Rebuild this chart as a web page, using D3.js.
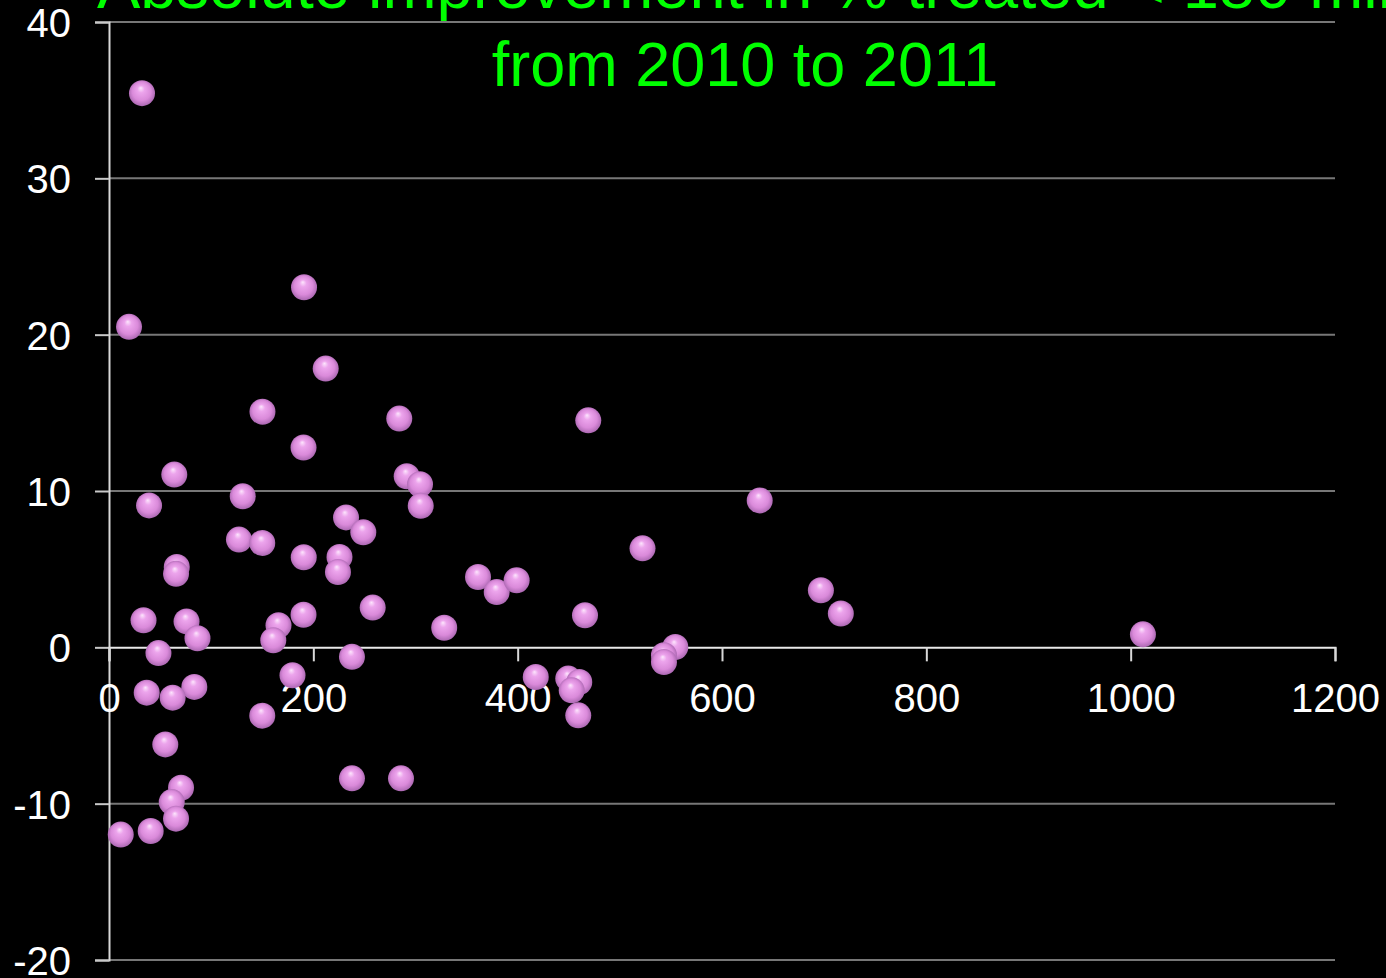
<!DOCTYPE html>
<html>
<head>
<meta charset="utf-8">
<script src="https://cdn.jsdelivr.net/npm/d3@7/dist/d3.min.js"></script>
<style>
html,body{margin:0;padding:0;background:#000;}
svg{display:block;}
</style>
</head>
<body>
<svg id="chart" width="1386" height="978"></svg>
<script>
// ---- data ----
const titleLines = ["Absolute improvement in % treated < 180 min", "from 2010 to 2011"];
const xTicks = [0, 200, 400, 600, 800, 1000, 1200];
const yTicks = [-20, -10, 0, 10, 20, 30, 40];
const xValues = [32.3, 19.6, 190.9, 212.1, 150.2, 284.1, 469.1, 190.4, 63.9, 39.2,
  130.9, 291.4, 304.4, 305.1, 636.9, 232, 248.9, 127.2, 150, 190.6,
  225.6, 224.1, 522.2, 66.3, 65.6, 361.2, 379.5, 399, 696.8, 716.3,
  258.1, 190.4, 465.9, 33.8, 75.9, 165.9, 160.8, 86.6, 328.1, 1012,
  554.3, 543.2, 543.2, 48.4, 237.8, 179.6, 417.7, 449.5, 460.3, 452.9,
  459.3, 83.5, 36.9, 62.3, 150, 55.1, 237.8, 285.8, 70.5, 61.4,
  65.6, 11.5, 40.8];
const yValues = [35.45, 20.5, 23.03, 17.83, 15.07, 14.63, 14.52, 12.78, 11.05, 9.08,
  9.66, 10.94, 10.43, 9.05, 9.40, 8.31, 7.36, 6.89, 6.67, 5.76,
  5.78, 4.82, 6.33, 5.14, 4.70, 4.50, 3.54, 4.29, 3.65, 2.16,
  2.54, 2.08, 2.05, 1.73, 1.66, 1.41, 0.45, 0.58, 1.25, 0.83,
  0.02, -0.51, -0.94, -0.37, -0.61, -1.79, -1.90, -2.00, -2.22, -2.75,
  -4.35, -2.53, -2.90, -3.22, -4.37, -6.21, -8.38, -8.38, -8.98, -9.90,
  -10.96, -11.98, -11.75];

const points = xValues.map((x, i) => ({x, y: yValues[i]}));

// ---- layout ----
const svg = d3.select("#chart");
const x = d3.scaleLinear().domain([0, 1200]).range([109, 1335]);
const y = d3.scaleLinear().domain([-20, 40]).range([960, 22]);
const fmt = d => String(d);

const defs = svg.append("defs");
const grad = defs.append("radialGradient").attr("id", "ball")
  .attr("cx", "50%").attr("cy", "50%").attr("r", "55%")
  .attr("fx", "45%").attr("fy", "30%");
grad.append("stop").attr("offset", "0%").attr("stop-color", "#fde6fd");
grad.append("stop").attr("offset", "25%").attr("stop-color", "#eca4ec");
grad.append("stop").attr("offset", "65%").attr("stop-color", "#da8ada");
grad.append("stop").attr("offset", "100%").attr("stop-color", "#a060a8");

svg.append("rect").attr("width", 1386).attr("height", 978).attr("fill", "#000");

// gridlines
svg.append("g").selectAll("line").data(yTicks.filter(d => d !== 0)).join("line")
  .attr("x1", x(0)).attr("x2", x(1200))
  .attr("y1", d => y(d)).attr("y2", d => y(d))
  .attr("stroke", "#777").attr("stroke-width", 2);

// y axis
const yAxis = d3.axisLeft(y).tickValues(yTicks).tickFormat(fmt).tickSize(14).tickPadding(24);
const gy = svg.append("g").attr("transform", `translate(${x(0)},0)`).call(yAxis);
gy.select(".domain").attr("stroke", "#d8d8d8").attr("stroke-width", 2);
gy.selectAll(".tick line").attr("stroke", "#c8c8c8").attr("stroke-width", 2);
gy.selectAll(".tick text").attr("fill", "#fff")
  .style("font-family", "'Liberation Sans', Arial, sans-serif").style("font-size", "40px")
  .attr("dy", "0.36em");

// x axis at y = 0
const xAxis = d3.axisBottom(x).tickValues(xTicks).tickFormat(fmt).tickSize(14).tickPadding(22);
const gx = svg.append("g").attr("transform", `translate(0,${y(0)})`).call(xAxis);
gx.select(".domain").attr("stroke", "#e8e8e8").attr("stroke-width", 2);
gx.selectAll(".tick line").attr("stroke", "#d8d8d8").attr("stroke-width", 2);
gx.selectAll(".tick text").attr("fill", "#fff")
  .style("font-family", "'Liberation Sans', Arial, sans-serif").style("font-size", "40px");

// points
svg.append("g").selectAll("circle").data(points).join("circle")
  .attr("cx", d => x(d.x)).attr("cy", d => y(d.y)).attr("r", 13)
  .attr("fill", "url(#ball)");

// title
svg.append("text").attr("x", 97).attr("y", 8)
  .attr("fill", "#00ff00").attr("text-anchor", "start")
  .style("font-family", "'Liberation Sans', Arial, sans-serif").style("font-size", "65px")
  .text(titleLines[0]);
svg.append("text").attr("x", 745).attr("y", 86)
  .attr("fill", "#00ff00").attr("text-anchor", "middle")
  .style("font-family", "'Liberation Sans', Arial, sans-serif").style("font-size", "63px")
  .text(titleLines[1]);
</script>
</body>
</html>
